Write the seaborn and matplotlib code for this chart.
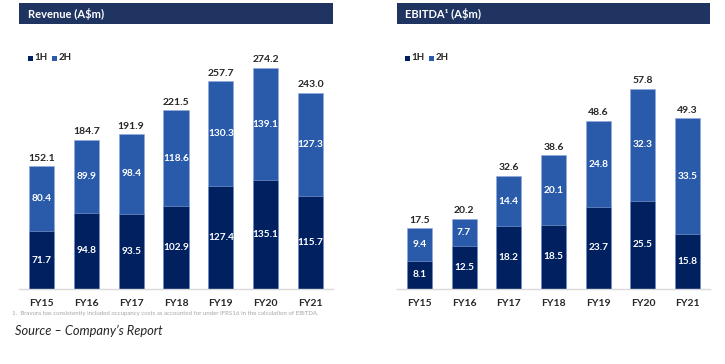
import pandas as pd
import matplotlib
matplotlib.use('Agg')
import matplotlib.pyplot as plt
import seaborn as sns
from matplotlib.patches import Rectangle

years = ['FY15', 'FY16', 'FY17', 'FY18', 'FY19', 'FY20', 'FY21']

rev_1h = [71.7, 94.8, 93.5, 102.9, 127.4, 135.1, 115.7]
rev_2h = [80.4, 89.9, 98.4, 118.6, 130.3, 139.1, 127.3]
rev_total = [152.1, 184.7, 191.9, 221.5, 257.7, 274.2, 243.0]

ebitda_1h = [8.1, 12.5, 18.2, 18.5, 23.7, 25.5, 15.8]
ebitda_2h = [9.4, 7.7, 14.4, 20.1, 24.8, 32.3, 33.5]
ebitda_total = [17.5, 20.2, 32.6, 38.6, 48.6, 57.8, 49.3]

C1H = '#002060'
C2H = '#2A5BAA'
HEADER = '#1F3461'
DARK = '#262626'

sns.set_theme(style='white')
plt.rcParams['font.family'] = ['Lato', 'DejaVu Sans']

W, H = 725, 364
fig = plt.figure(figsize=(W / 100, H / 100), dpi=100)


def px_box(x0, y_top, x1, y_bot):
    # pixel box -> figure fraction [left, bottom, width, height]
    return [x0 / W, (H - y_bot) / H, (x1 - x0) / W, (y_bot - y_top) / H]


def panel(box, ymax, first, second, total, title, hx, fmt):
    ax = fig.add_axes(px_box(*box))
    df = pd.DataFrame({'year': years, 'h1': first, 'h2': second, 'total': total})
    df['stack'] = df['h1'] + df['h2']
    sns.barplot(data=df, x='year', y='stack', color=C2H, saturation=1, width=0.56,
                edgecolor='#8FAADC', linewidth=0.4, ax=ax)
    sns.barplot(data=df, x='year', y='h1', color=C1H, saturation=1, width=0.56,
                edgecolor='#8FAADC', linewidth=0.4, ax=ax)
    ax.set_ylim(0, ymax)
    ax.set_xlim(-0.5, 6.5)
    ax.set_xlabel('')
    ax.set_ylabel('')
    ax.set_yticks([])
    for s in ['top', 'right', 'left']:
        ax.spines[s].set_visible(False)
    ax.spines['bottom'].set_color('#D9D9D9')
    ax.spines['bottom'].set_linewidth(1)
    ax.tick_params(axis='x', length=0, pad=7)
    for lab in ax.get_xticklabels():
        lab.set_fontsize(7.5)
        lab.set_fontweight('bold')
        lab.set_color(DARK)
    off = ymax * 0.033
    for i, r in df.iterrows():
        ax.text(i, r['h1'] / 2, fmt % r['h1'], ha='center', va='center',
                color='white', fontsize=7.3, fontweight='bold')
        ax.text(i, r['h1'] + r['h2'] / 2, fmt % r['h2'], ha='center', va='center',
                color='white', fontsize=7.3, fontweight='bold')
        ax.text(i, r['stack'] + off, fmt % r['total'], ha='center', va='center',
                color=DARK, fontsize=7.5, fontweight='bold')

    # header band
    x0, x1 = box[0], box[2]
    fig.add_artist(Rectangle((x0 / W, (H - 24) / H), (x1 - x0) / W, 21 / H,
                             transform=fig.transFigure, facecolor=HEADER,
                             edgecolor='none'))
    fig.text(hx / W, 1 - 14 / H, title, color='white', fontsize=8,
             fontweight='bold', va='center', ha='left')

    # legend
    lx = hx
    for name, col in [('1H', C1H), ('2H', C2H)]:
        fig.add_artist(Rectangle((lx / W, 1 - 60.5 / H), 5 / W, 5 / H,
                                 transform=fig.transFigure, facecolor=col,
                                 edgecolor='none'))
        fig.text((lx + 6.5) / W, 1 - 58 / H, name, color=DARK, fontsize=7,
                 fontweight='bold', va='center', ha='left')
        lx += 24
    return ax


panel((19, 40, 333, 289), 249 / 0.806, rev_1h, rev_2h, rev_total,
      'Revenue (A$m)', 28, '%.1f')
panel((397, 40, 710, 289), 249 / 3.46, ebitda_1h, ebitda_2h, ebitda_total,
      'EBITDA\u00b9 (A$m)', 405, '%.1f')

fig.text(12 / W, 1 - 314 / H,
         '1.  Bravura has consistently included occupancy costs as accounted for under IFRS16 in the calculation of EBITDA.',
         color='#A6A6A6', fontsize=4.45, va='center', ha='left')
fig.text(15 / W, 1 - 331 / H, 'Source \u2013 Company\u2019s Report',
         color=DARK, fontsize=9.3, fontstyle='italic', va='center', ha='left')

fig.savefig('out.png', dpi=100)
